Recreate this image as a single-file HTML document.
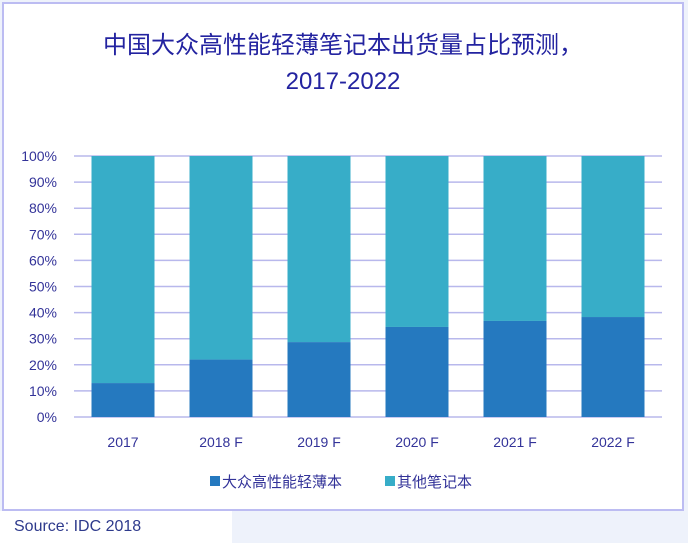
<!DOCTYPE html>
<html><head><meta charset="utf-8"><style>
body{margin:0;width:688px;height:543px;background:#eef2fb;overflow:hidden;font-family:"Liberation Sans","Noto Sans CJK SC",sans-serif}
#frame{position:absolute;left:2px;top:2px;width:678px;height:505px;border:2px solid #bcbcf2;background:#fff}
#src{position:absolute;left:0;top:511px;width:232px;height:32px;background:#fff;color:#2e3a8c;font-size:16px;line-height:32px;padding-left:14px;box-sizing:border-box}
</style></head><body>
<div id="frame"></div>
<div id="src">Source: IDC 2018</div>
<svg id="c" width="688" height="543" style="position:absolute;left:0;top:0">
<text x="343" y="53" text-anchor="middle" font-size="24" fill="#2323a0">中国大众高性能轻薄笔记本出货量占比预测，</text>
<text x="343" y="89" text-anchor="middle" font-size="24" fill="#2323a0">2017-2022</text>
</svg>
<script>
const categories=["2017","2018 F","2019 F","2020 F","2021 F","2022 F"];
const mainSeries=[13,22,28.7,34.5,36.8,38.3];
const yTicks=[0,10,20,30,40,50,60,70,80,90,100];
const svg=document.getElementById('c');const NS='http://www.w3.org/2000/svg';
const y0=417,y1=156,x0=74,x1=662;
const yS=v=>y0-(v/100)*(y0-y1);
const step=(x1-x0)/categories.length,bw=63;
const xS=i=>x0+step*(i+0.5);
function mk(t,a){const e=document.createElementNS(NS,t);for(const k in a)e.setAttribute(k,a[k]);svg.appendChild(e);return e;}
yTicks.forEach(v=>{
 const l=mk('line',{x1:x0,x2:x1,y1:yS(v),y2:yS(v),stroke:'#b8b8ec','stroke-width':1.5});
 
 
 const t=mk('text',{x:57,y:yS(v)+5,'text-anchor':'end','font-size':14,fill:'#333399'});t.textContent=v+'%';
 
 
});
categories.forEach((c,i)=>{
 const cx=xS(i),v=mainSeries[i];
 const r2=mk('rect',{x:cx-bw/2,y:yS(100),width:bw,height:yS(v)-yS(100),fill:'#37adc8'});
 
 
 const r=mk('rect',{x:cx-bw/2,y:yS(v),width:bw,height:y0-yS(v),fill:'#2579bf'});
 
 
 const t=mk('text',{x:cx,y:447,'text-anchor':'middle','font-size':14,fill:'#333399'});t.textContent=c;
 
 
});
[[210,'#2579bf','大众高性能轻薄本','legend-main'],[385,'#37adc8','其他笔记本','legend-other']].forEach(([x,col,txt,n])=>{
 const s=mk('rect',{x:x,y:476,width:10,height:10,fill:col});
 
 
 const t=mk('text',{x:x+12,y:487,'font-size':15,fill:'#333399'});t.textContent=txt;
 
 
});
</script>
</body></html>
